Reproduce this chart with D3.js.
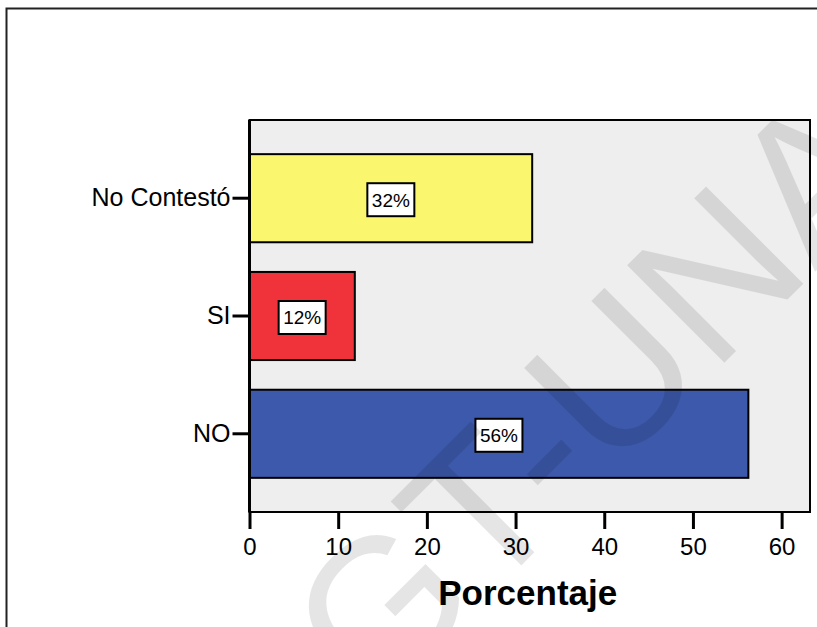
<!DOCTYPE html>
<html>
<head>
<meta charset="utf-8">
<script src="https://cdn.jsdelivr.net/npm/d3@7"></script>
<style>
  html, body { margin: 0; padding: 0; background: #ffffff; }
  svg { display: block; }
</style>
</head>
<body>
<svg id="chart" width="817" height="627"></svg>
<script>
// Response categories, top to bottom
const categories = ["No Contestó", "SI", "NO"];
// Percentage of responses per category
const percentages = [31.875, 11.875, 56.25];
const barColors = ["#faf76e", "#f0323a", "#3d59ab"];
const xTicks = [0, 10, 20, 30, 40, 50, 60];
const xTitle = "Porcentaje";
const watermarkText = "CGT-UNA";

const svg = d3.select("#chart");
const font = "Liberation Sans, Arial, Helvetica, sans-serif";

const plot = { left: 249.5, top: 120, right: 810, bottom: 512 };

// outer frame
svg.append("rect")
  .attr("x", 6.5).attr("y", 8.5)
  .attr("width", 830).attr("height", 640)
  .attr("fill", "none").attr("stroke", "#222").attr("stroke-width", 2);

const x = d3.scaleLinear().domain([0, 63.2]).range([plot.left, plot.right]);
const y = d3.scaleBand().domain(categories)
  .range([plot.top, plot.bottom])
  .paddingInner(0.252).paddingOuter(0.29);

// plot background
svg.append("rect")
  .attr("x", plot.left).attr("y", plot.top)
  .attr("width", plot.right - plot.left).attr("height", plot.bottom - plot.top)
  .attr("fill", "#eeeeee").attr("stroke", "#000").attr("stroke-width", 2);

const rows = categories.map((c, i) => ({ cat: c, value: percentages[i], color: barColors[i] }));

// bars
svg.append("g").selectAll("rect").data(rows).join("rect")
  .attr("x", x(0))
  .attr("y", d => y(d.cat))
  .attr("width", d => x(d.value) - x(0))
  .attr("height", y.bandwidth())
  .attr("fill", d => d.color)
  .attr("stroke", "#000").attr("stroke-width", 2);

// value labels in white boxes
const fmt = v => d3.format(".0f")(v) + "%";
const lab = svg.append("g").selectAll("g").data(rows).join("g")
  .attr("transform", d => `translate(${(x(0) + x(d.value)) / 2},${y(d.cat) + y.bandwidth() / 2 + 1.5})`);
lab.append("rect")
  .attr("x", -23.5).attr("y", -16.5).attr("width", 47).attr("height", 33)
  .attr("fill", "#fff").attr("stroke", "#000").attr("stroke-width", 2);
lab.append("text")
  .attr("text-anchor", "middle").attr("dy", "0.36em")
  .attr("font-family", font).attr("font-size", 19).attr("fill", "#000")
  .text(d => fmt(d.value));

// y axis
const yAxis = svg.append("g")
  .attr("transform", `translate(${plot.left},0)`)
  .call(d3.axisLeft(y).tickSize(17).tickSizeOuter(0).tickPadding(2));
yAxis.select(".domain").remove();
yAxis.selectAll(".tick line").attr("stroke", "#000").attr("stroke-width", 3);
yAxis.selectAll(".tick text")
  .attr("font-family", font).attr("font-size", 25).attr("fill", "#000");
svg.append("line")
  .attr("x1", plot.left).attr("x2", plot.left)
  .attr("y1", plot.top).attr("y2", plot.bottom)
  .attr("stroke", "#000").attr("stroke-width", 3);

// x axis
const xAxis = svg.append("g")
  .attr("transform", `translate(0,${plot.bottom})`)
  .call(d3.axisBottom(x).tickValues(xTicks).tickSize(17).tickSizeOuter(0).tickPadding(9).tickFormat(d3.format("d")));
xAxis.select(".domain").remove();
xAxis.selectAll(".tick line").attr("stroke", "#000").attr("stroke-width", 3);
xAxis.selectAll(".tick text")
  .attr("font-family", font).attr("font-size", 24).attr("fill", "#000");

svg.append("text")
  .attr("x", (plot.left + plot.right) / 2 - 2).attr("y", 605)
  .attr("text-anchor", "middle")
  .attr("font-family", font).attr("font-size", 35).attr("font-weight", "bold")
  .attr("fill", "#000")
  .text(xTitle);

// diagonal watermark
svg.append("text")
  .attr("transform", "translate(540,445) rotate(-45)")
  .attr("text-anchor", "middle").attr("dy", "0.36em")
  .attr("font-family", font).attr("font-size", 200)
  .attr("fill", "#000").attr("fill-opacity", 0.1)
  .text(watermarkText);
</script>
</body>
</html>
